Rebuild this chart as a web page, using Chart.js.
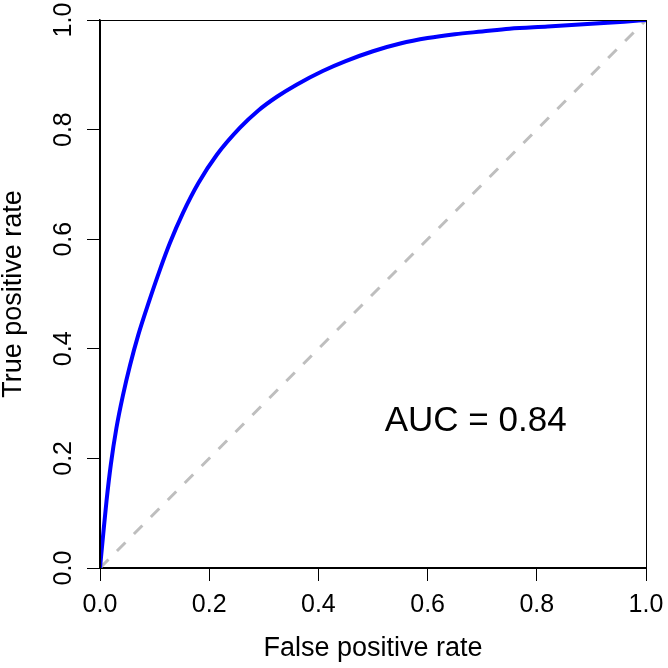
<!DOCTYPE html>
<html>
  <head>
    <title>ROC curve</title>
    <style>
      html, body { margin: 0; padding: 0; background: #fff; }
      #wrap { width: 668px; height: 668px; }
    </style>
  </head>
  <body>
    <div id="wrap"><canvas id="rocChart"></canvas></div>

    <script src="https://cdn.jsdelivr.net/npm/chart.js@4"></script>
    <script>
      // ROC curve
      const fpr = [0, 0.006, 0.012, 0.02, 0.03, 0.042, 0.055, 0.07, 0.09, 0.11, 0.128, 0.152, 0.18, 0.214, 0.256, 0.29, 0.324, 0.36, 0.408, 0.45, 0.5, 0.55, 0.6, 0.65, 0.7, 0.75, 0.82, 0.9, 0.96, 1];
      const tpr = [0, 0.063, 0.123, 0.19, 0.255, 0.315, 0.37, 0.425, 0.487, 0.545, 0.593, 0.648, 0.702, 0.754, 0.803, 0.835, 0.86, 0.882, 0.907, 0.925, 0.943, 0.957, 0.967, 0.974, 0.979, 0.984, 0.988, 0.993, 0.997, 1];

      // chance line
      const diagX = [0, 1];
      const diagY = [0, 1];

      const tickValues = [0, 0.2, 0.4, 0.6, 0.8, 1.0];
      const xTitle = "False positive rate";
      const yTitle = "True positive rate";
      const aucText = "AUC = 0.84";
      const aucPos = [0.688, 0.268];

      const FONT = "'Liberation Sans', Arial, Helvetica, sans-serif";

      // box around plot + AUC label
      const boxPlugin = {
        id: "box",
        afterDraw(chart) {
          const { ctx, chartArea, scales } = chart;
          ctx.save();
          ctx.strokeStyle = "#000";
          ctx.lineWidth = 1;
          ctx.strokeRect(chartArea.left + 0.5, chartArea.top + 0.5, chartArea.right - chartArea.left, chartArea.bottom - chartArea.top);
          ctx.fillStyle = "#000";
          ctx.font = "35px " + FONT;
          ctx.textAlign = "center";
          ctx.textBaseline = "middle";
          ctx.fillText(aucText, scales.x.getPixelForValue(aucPos[0]), scales.y.getPixelForValue(aucPos[1]));
          ctx.restore();
        },
      };

      const ctx = document.getElementById("rocChart").getContext("2d");
      const myChart = new Chart(ctx, {
        type: "line",
        data: {
          datasets: [
            {
              label: "ROC",
              data: fpr.map((v, i) => ({ x: v, y: tpr[i] })),
              borderColor: "#0000FF",
              borderWidth: 4,
              pointRadius: 0,
              cubicInterpolationMode: "monotone",
              fill: false,
            },
            {
              label: "chance",
              data: diagX.map((v, i) => ({ x: v, y: diagY[i] })),
              borderColor: "#BEBEBE",
              borderWidth: 3,
              borderDash: [12, 12],
              pointRadius: 0,
              fill: false,
            },
          ],
        },
        options: {
          responsive: true,
          maintainAspectRatio: false,
          animation: false,
          layout: { padding: { top: 20, right: 22, left: 0, bottom: 0 } },
          plugins: {
            legend: { display: false },
            tooltip: { enabled: false },
          },
          scales: {
            x: {
              type: "linear",
              min: 0,
              max: 1,
              afterBuildTicks: (s) => { s.ticks = tickValues.map((v) => ({ value: v })); },
              afterFit: (s) => { s.height = 100; s.paddingLeft = 0; s.paddingRight = 0; },
              grid: { drawOnChartArea: false, drawTicks: true, tickLength: 13, color: "#000", lineWidth: 1 },
              border: { display: true, color: "#000", width: 1.5 },
              ticks: {
                color: "#000",
                font: { family: FONT, size: 25 },
                padding: 9,
                maxRotation: 0,
                autoSkip: false,
                callback: (v) => v.toFixed(1),
              },
              title: {
                display: true,
                text: xTitle,
                color: "#000",
                font: { family: FONT, size: 27, lineHeight: 1 },
                padding: { top: 0, bottom: 6 },
              },
            },
            y: {
              type: "linear",
              min: 0,
              max: 1,
              afterBuildTicks: (s) => { s.ticks = tickValues.map((v) => ({ value: v })); },
              afterFit: (s) => { s.width = 100; s.paddingTop = 0; s.paddingBottom = 0; },
              grid: { drawOnChartArea: false, drawTicks: true, tickLength: 13, color: "#000", lineWidth: 1 },
              border: { display: true, color: "#000", width: 1.5 },
              ticks: {
                color: "#000",
                font: { family: FONT, size: 25 },
                padding: 6,
                minRotation: 90,
                maxRotation: 90,
                crossAlign: "center",
                autoSkip: false,
                callback: (v) => v.toFixed(1),
              },
              title: {
                display: true,
                text: yTitle,
                color: "#000",
                font: { family: FONT, size: 27, lineHeight: 1 },
                padding: { top: 0, bottom: 0 },
              },
            },
          },
        },
        plugins: [boxPlugin],
      });
    </script>
  </body>
</html>
